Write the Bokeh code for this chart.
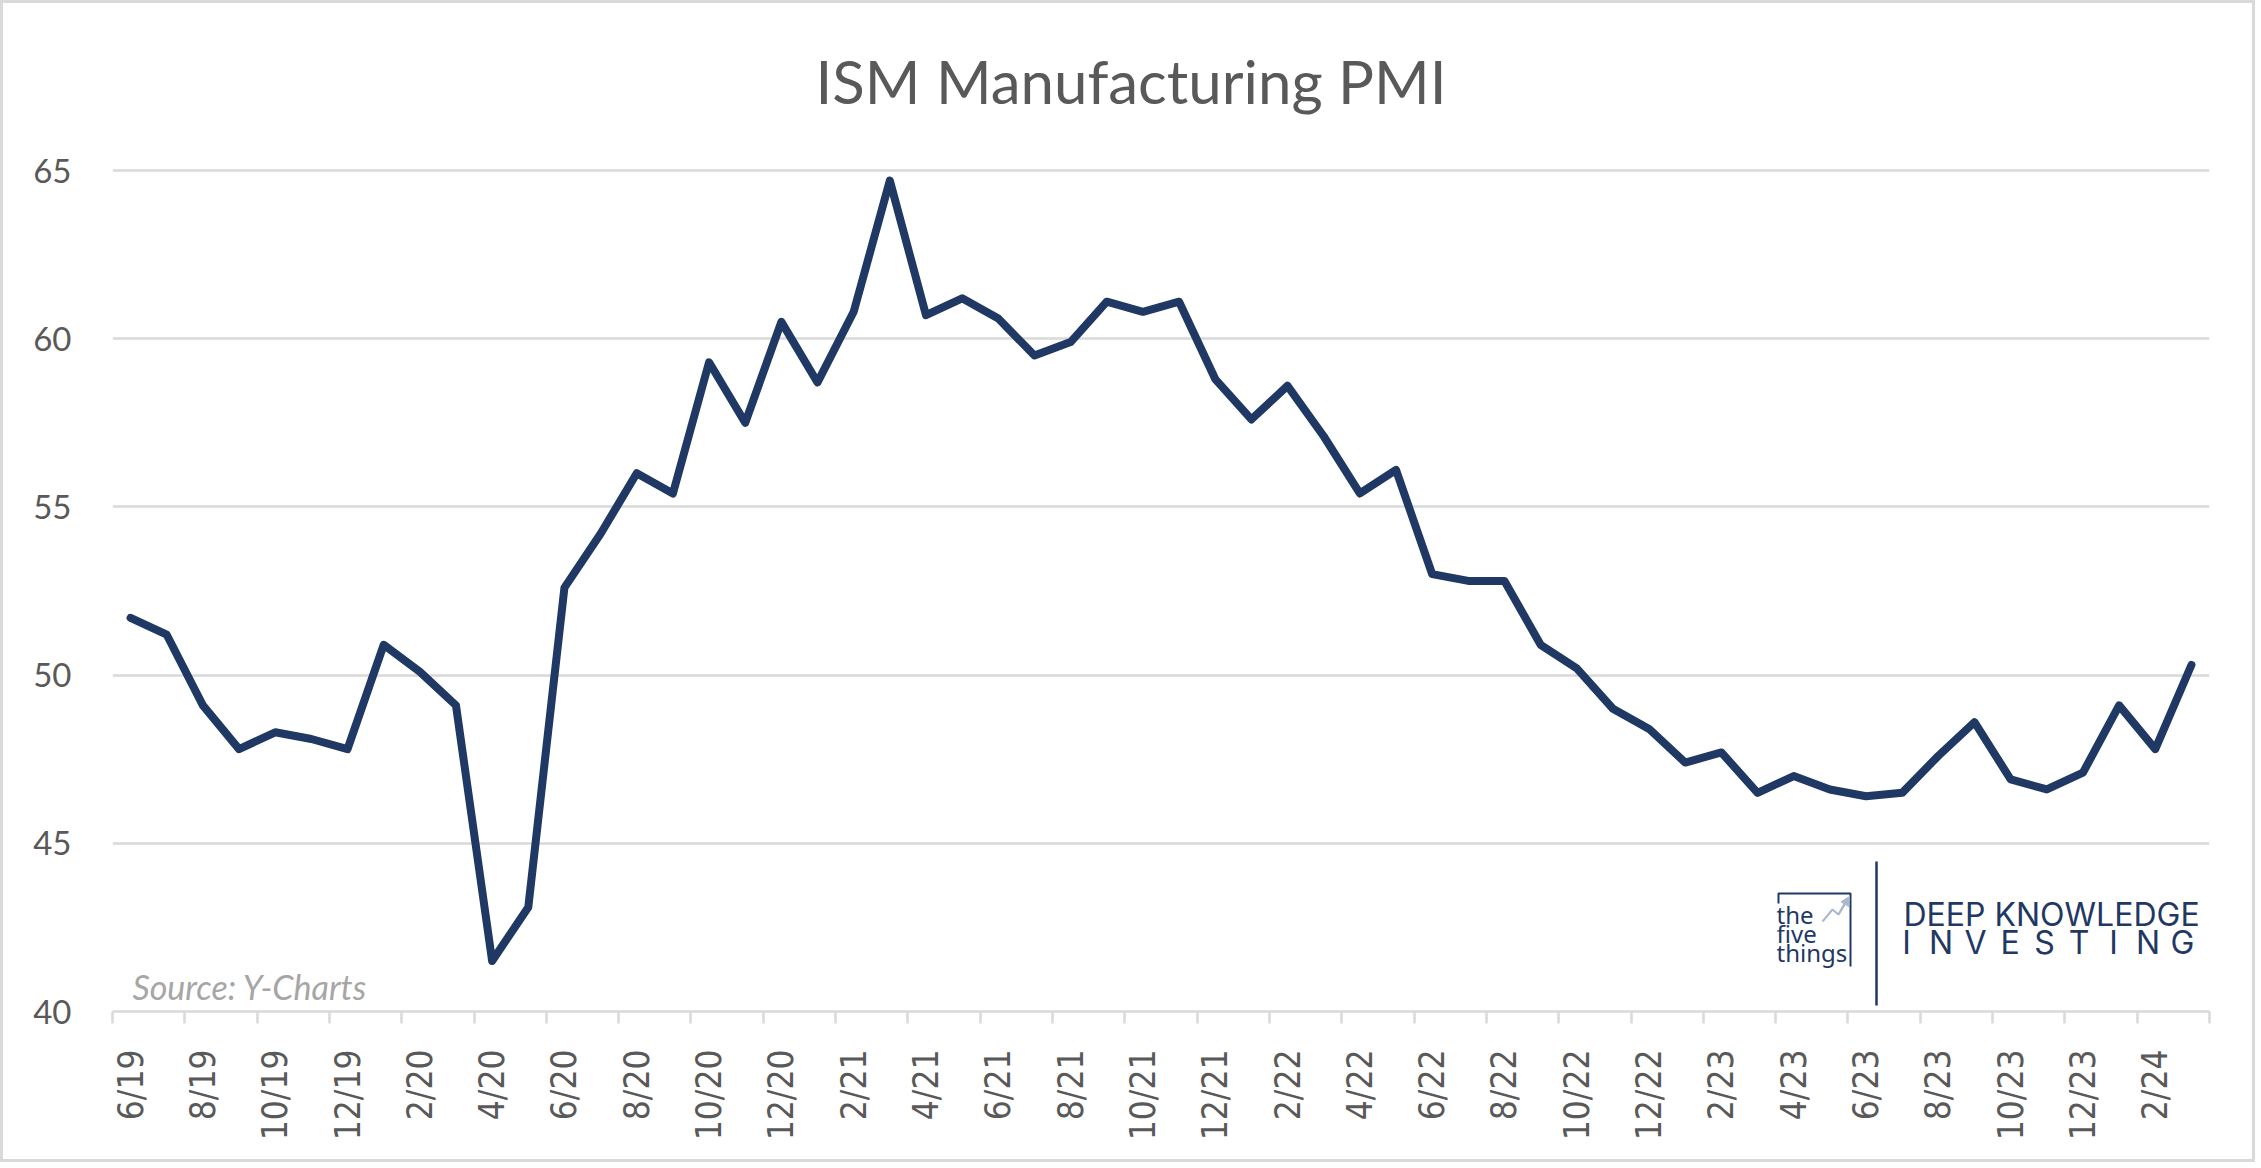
import math
from bokeh.plotting import figure
from bokeh.models import Range1d, FixedTicker, Label, Arrow, NormalHead
from bokeh.core.properties import value
from bokeh.embed import file_html
from bokeh.resources import INLINE

# ---------------- data ----------------
months = [
    "6/19", "7/19", "8/19", "9/19", "10/19", "11/19", "12/19",
    "1/20", "2/20", "3/20", "4/20", "5/20", "6/20", "7/20", "8/20", "9/20", "10/20", "11/20", "12/20",
    "1/21", "2/21", "3/21", "4/21", "5/21", "6/21", "7/21", "8/21", "9/21", "10/21", "11/21", "12/21",
    "1/22", "2/22", "3/22", "4/22", "5/22", "6/22", "7/22", "8/22", "9/22", "10/22", "11/22", "12/22",
    "1/23", "2/23", "3/23", "4/23", "5/23", "6/23", "7/23", "8/23", "9/23", "10/23", "11/23", "12/23",
    "1/24", "2/24", "3/24",
]
pmi = [
    51.7, 51.2, 49.1, 47.8, 48.3, 48.1, 47.8,
    50.9, 50.1, 49.1, 41.5, 43.1, 52.6, 54.2, 56.0, 55.4, 59.3, 57.5, 60.5,
    58.7, 60.8, 64.7, 60.7, 61.2, 60.6, 59.5, 59.9, 61.1, 60.8, 61.1, 58.8,
    57.6, 58.6, 57.1, 55.4, 56.1, 53.0, 52.8, 52.8, 50.9, 50.2, 49.0, 48.4,
    47.4, 47.7, 46.5, 47.0, 46.6, 46.4, 46.5, 47.6, 48.6, 46.9, 46.6, 47.1,
    49.1, 47.8, 50.3,
]
y_ticks = [40, 45, 50, 55, 60, 65]
title_text = "ISM Manufacturing PMI"
source_text = "Source: Y-Charts"
logo_small = ["the", "five", "things"]
logo_line1 = "DEEP KNOWLEDGE"
logo_line2 = list("INVESTING")

# ---------------- layout ----------------
BORDER = 3
W, H = 2261 - 2 * BORDER, 1168 - 2 * BORDER
PAGE_OFF = BORDER
FL, FR, FT, FB = 112, 2209, 170, 1011  # reference-image pixel positions of the plot area
n = len(months)
Y0, Y1 = 40, 65


def X(px):
    return -0.5 + (px - FL) / (FR - FL) * n


def Y(py):
    return Y0 + (FB - py) / (FB - FT) * (Y1 - Y0)


def YB(baseline_px, fs):
    # text baseline correction (svg text sits ~0.35em lower than requested)
    return Y(baseline_px - 0.35 * fs)


GRAY = "#595959"
GRID = "#D9D9D9"
NAVY = "#1F3864"

p = figure(
    width=W, height=H,
    x_range=Range1d(-0.5, n - 0.5),
    y_range=Range1d(Y0, Y(PAGE_OFF)),
    output_backend="svg", toolbar_location=None,
    min_border_left=FL - PAGE_OFF,
    min_border_right=W - (FR - PAGE_OFF),
    min_border_top=0,
    min_border_bottom=H - (FB - PAGE_OFF),
    background_fill_color="white", border_fill_color="white",
)
p.styles = {"border": "3px solid #D9D9D9"}
p.outline_line_color = None

# grid
p.xgrid.grid_line_color = None
p.ygrid.ticker = FixedTicker(ticks=y_ticks[1:])
p.ygrid.grid_line_color = GRID
p.ygrid.grid_line_width = 2.5

# y axis
ya = p.yaxis[0]
ya.ticker = FixedTicker(ticks=y_ticks)
ya.axis_line_color = None
ya.major_tick_line_color = None
ya.minor_tick_line_color = None
ya.major_tick_out = 0
ya.major_tick_in = 0
ya.major_label_standoff = 41
ya.major_label_text_font = "Lato"
ya.major_label_text_font_size = "33px"
ya.major_label_text_color = GRAY

# x axis: labels at category centres (every 2nd), ticks between categories
xa = p.xaxis[0]
label_pos = list(range(0, n, 2))
xa.ticker = FixedTicker(ticks=label_pos, minor_ticks=[i - 0.5 for i in range(0, n + 1, 2)])
xa.major_label_overrides = {i: months[i] for i in label_pos}
xa.axis_line_color = GRID
xa.axis_line_width = 2.5
xa.major_tick_line_color = None
xa.major_tick_out = 0
xa.major_tick_in = 0
xa.minor_tick_line_color = GRID
xa.minor_tick_line_width = 2.5
xa.minor_tick_out = 12
xa.minor_tick_in = 0
xa.major_label_orientation = math.pi / 2
xa.major_label_standoff = 26
xa.major_label_text_font = "DejaVu Sans Condensed"
xa.major_label_text_font_size = "35px"
xa.major_label_text_color = GRAY

# data line
p.line(list(range(n)), pmi, line_color=NAVY, line_width=8, line_join="round", line_cap="round")

# title
p.add_layout(Label(x=X(1130.5), y=YB(101, 60), text=title_text, text_align="center",
                   text_baseline="alphabetic", text_font="Lato", text_font_size="60px",
                   text_color=GRAY))

# source note
p.add_layout(Label(x=X(132), y=YB(998, 34), text=source_text, text_align="left",
                   text_baseline="alphabetic", text_font="Lato", text_font_style="italic",
                   text_font_size="34px", text_color="#A6A6A6"))

# logo: "the five things"
for txt, by in zip(logo_small, [922, 941, 960]):
    p.add_layout(Label(x=X(1776), y=YB(by, 24), text=txt, text_align="left",
                       text_baseline="alphabetic", text_font="Noto Sans",
                       text_font_size="24px", text_color=NAVY))
p.line([X(1778), X(1778), X(1850), X(1850)], [Y(903), Y(893), Y(893), Y(966)],
       line_color=NAVY, line_width=2)
p.line([X(1822), X(1832), X(1838), X(1846)], [Y(921), Y(909), Y(914), Y(900)],
       line_color="#A9B8CC", line_width=2)
p.add_layout(Arrow(x_start=X(1838), y_start=Y(914), x_end=X(1849), y_end=Y(896),
                   line_color="#A9B8CC", line_width=2,
                   end=NormalHead(size=9, fill_color="#A9B8CC", line_color="#A9B8CC")))
# divider
p.line([X(1876), X(1876)], [Y(861), Y(1005)], line_color=NAVY, line_width=2.5)
# Deep Knowledge Investing
p.add_layout(Label(x=X(1903), y=YB(925, 32), text=logo_line1, text_align="left",
                   text_baseline="alphabetic", text_font="Inter", text_font_size="32px",
                   text_color=NAVY))
letter_x = [X(1906 + 34.5 * k) for k in range(len(logo_line2))]
p.text(letter_x, [YB(953, 32)] * len(logo_line2), text=logo_line2, text_align="center",
       text_baseline="alphabetic", text_font=value("Inter"), text_font_size="32px",
       text_color=NAVY)

open("out.html", "w").write(file_html(p, INLINE))
